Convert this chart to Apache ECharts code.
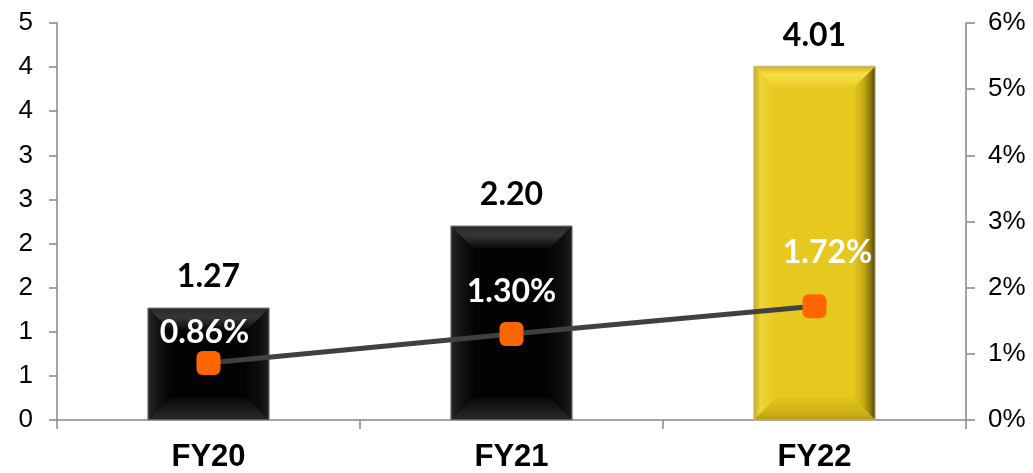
<!DOCTYPE html>
<html><head><meta charset="utf-8">
<script src="https://cdn.jsdelivr.net/npm/echarts@6/dist/echarts.min.js"></script>
<style>html,body{margin:0;padding:0;background:#fff}#c{width:1033px;height:473px}</style>
</head><body><div id="c"></div>
<script>
// ---- data ----
const categories = ['FY20', 'FY21', 'FY22'];
const barValues = [1.27, 2.20, 4.01];
const ratioValues = [0.86, 1.30, 1.72];
const leftTickLabels = ['0', '1', '1', '2', '2', '3', '3', '4', '4', '5'];
const rightTickLabels = ['0%', '1%', '2%', '3%', '4%', '5%', '6%'];

// ---- styles ----
const barThemes = ['black', 'black', 'gold'];
const ratioLabelOffsets = [[-4, -30], [0, -42], [13, -54]];
const themes = {
  black: {
    base: '#030303', border: '#8a8a8a',
    top: [{offset: 0, color: '#2a2a2a'}, {offset: 0.45, color: '#363636'}, {offset: 1, color: '#0a0a0a'}],
    bottom: [{offset: 0, color: '#0a0a0a'}, {offset: 1, color: '#2a2a2a'}],
    left: [{offset: 0, color: '#262626'}, {offset: 0.5, color: '#111'}, {offset: 1, color: '#060606'}],
    right: [{offset: 0, color: '#060606'}, {offset: 0.6, color: '#0e0e0e'}, {offset: 1, color: '#202020'}]
  },
  gold: {
    base: '#E6C81E', border: '#c2b98e',
    top: [{offset: 0, color: '#D2B418'}, {offset: 0.35, color: '#F7DF45'}, {offset: 0.75, color: '#EFD432'}, {offset: 1, color: '#E6C81E'}],
    bottom: [{offset: 0, color: '#E2C41C'}, {offset: 0.7, color: '#CDB016'}, {offset: 1, color: '#B89C12'}],
    left: [{offset: 0, color: '#C9AE18'}, {offset: 0.3, color: '#EED43A'}, {offset: 1, color: '#E6C81E'}],
    right: [{offset: 0, color: '#E6C81E'}, {offset: 0.45, color: '#C8AC16'}, {offset: 0.8, color: '#8C780C'}, {offset: 1, color: '#4E4206'}]
  }
};
const axisColor = '#868686';

function renderBevel(params, api) {
  const i = api.value(0);
  const v = api.value(1);
  const t = themes[barThemes[i]];
  const top = api.coord([i, v]);
  const bot = api.coord([i, 0]);
  const w = api.size([1, 0])[0] * 0.4;
  const x0 = top[0] - w / 2, x1 = top[0] + w / 2, y0 = top[1], y1 = bot[1];
  const b = Math.min(22, (y1 - y0) / 2);
  const G = echarts.graphic.LinearGradient;
  return {
    type: 'group', silent: true, children: [
      {type: 'polygon', shape: {points: [[x0, y0], [x0 + b, y0 + b], [x0 + b, y1 - b], [x0, y1]]}, style: {fill: new G(0, 0, 1, 0, t.left)}},
      {type: 'polygon', shape: {points: [[x1, y0], [x1 - b, y0 + b], [x1 - b, y1 - b], [x1, y1]]}, style: {fill: new G(0, 0, 1, 0, t.right)}},
      {type: 'polygon', shape: {points: [[x0, y0], [x1, y0], [x1 - b, y0 + b], [x0 + b, y0 + b]]}, style: {fill: new G(0, 0, 0, 1, t.top)}},
      {type: 'polygon', shape: {points: [[x0, y1], [x1, y1], [x1 - b, y1 - b], [x0 + b, y1 - b]]}, style: {fill: new G(0, 0, 0, 1, t.bottom)}},
      {type: 'rect', shape: {x: x0, y: y0, width: w, height: y1 - y0}, style: {fill: null, stroke: t.border, lineWidth: 1}}
    ]
  };
}

const chart = echarts.init(document.getElementById('c'), null, {renderer: 'canvas'});
chart.setOption({
  animation: false,
  backgroundColor: '#ffffff',
  grid: {left: 57, right: 67, top: 23, bottom: 52, containLabel: false},
  xAxis: {
    type: 'category', data: categories, boundaryGap: true,
    axisLine: {show: true, lineStyle: {color: axisColor, width: 1.5}},
    axisTick: {show: true, alignWithLabel: false, length: 9, lineStyle: {color: axisColor, width: 1.5}},
    axisLabel: {margin: 22, color: '#000', fontFamily: 'Liberation Sans', fontWeight: 'bold', fontSize: 31}
  },
  yAxis: [{
    type: 'value', min: 0, max: 4.5, interval: 0.5,
    axisLine: {show: true, lineStyle: {color: axisColor, width: 1.5}},
    axisTick: {show: true, length: 8, lineStyle: {color: axisColor, width: 1.5}},
    splitLine: {show: false},
    axisLabel: {margin: 24, color: '#000', fontFamily: 'Liberation Sans', fontSize: 26,
      formatter: (v, idx) => leftTickLabels[idx]}
  }, {
    type: 'value', min: 0, max: 6, interval: 1, position: 'right',
    axisLine: {show: true, lineStyle: {color: axisColor, width: 1.5}},
    axisTick: {show: true, length: 9, lineStyle: {color: axisColor, width: 1.5}},
    splitLine: {show: false},
    axisLabel: {margin: 22, color: '#000', fontFamily: 'Liberation Sans', fontSize: 26,
      formatter: (v, idx) => rightTickLabels[idx]}
  }],
  series: [{
    type: 'bar', yAxisIndex: 0, barWidth: '40%', z: 2,
    data: barValues.map((v, i) => ({value: v, itemStyle: {color: themes[barThemes[i]].base}})),
    label: {show: true, position: 'top', distance: 15, color: '#000', fontFamily: 'Lato', fontWeight: 'bold', fontSize: 32,
      formatter: p => p.value.toFixed(2)}
  }, {
    type: 'custom', yAxisIndex: 0, z: 3, silent: true,
    data: barValues.map((v, i) => [i, v]),
    encode: {x: 0, y: 1},
    renderItem: renderBevel
  }, {
    type: 'line', yAxisIndex: 1, z: 5,
    data: ratioValues.map((v, i) => ({value: v, label: {offset: ratioLabelOffsets[i]}})),
    lineStyle: {color: '#404040', width: 5},
    symbol: 'roundRect', symbolSize: 24, showAllSymbol: true,
    itemStyle: {color: '#FF6600'},
    label: {show: true, position: 'inside', color: '#fff', fontFamily: 'Lato', fontWeight: 'bold', fontSize: 32,
      formatter: p => p.value.toFixed(2) + '%'}
  }]
});
</script></body></html>
